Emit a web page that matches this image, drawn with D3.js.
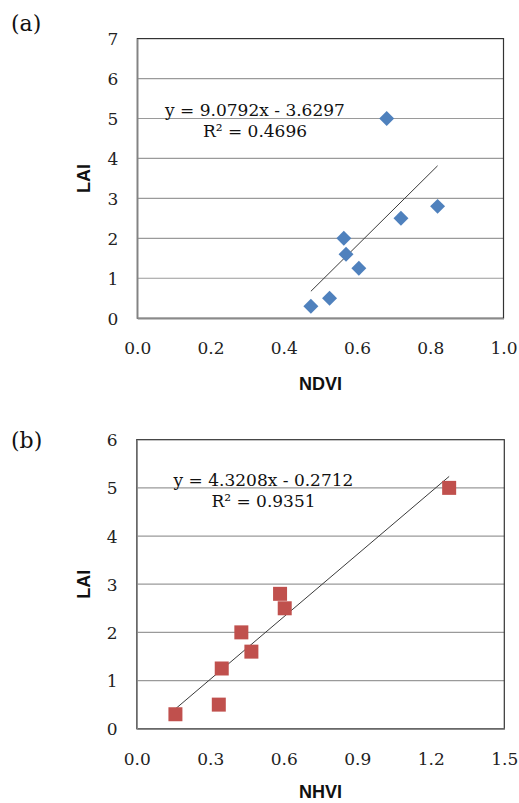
<!DOCTYPE html>
<html>
<head>
<meta charset="utf-8">
<script src="https://cdn.jsdelivr.net/npm/d3@7"></script>
<style>
  html, body { margin: 0; padding: 0; background: #fff; }
  svg { display: block; }
</style>
</head>
<body>
<svg id="chart" width="519" height="803"></svg>
<script>
// Panel (a): LAI against NDVI
const ndvi = [0.474, 0.525, 0.564, 0.570, 0.605, 0.681, 0.720, 0.820];
const laiA = [0.3, 0.5, 2.0, 1.6, 1.25, 5.0, 2.5, 2.8];
const xTicksA = [0, 0.2, 0.4, 0.6, 0.8, 1.0];
const yTicksA = [0, 1, 2, 3, 4, 5, 6, 7];
const fitA = { slope: 9.0792, intercept: -3.6297, r2: "0.4696" };

// Panel (b): LAI against NHVI
const nhvi = [0.158, 0.335, 0.347, 0.427, 0.468, 0.585, 0.604, 1.275];
const laiB = [0.3, 0.5, 1.25, 2.0, 1.6, 2.8, 2.5, 5.0];
const xTicksB = [0, 0.3, 0.6, 0.9, 1.2, 1.5];
const yTicksB = [0, 1, 2, 3, 4, 5, 6];
const fitB = { slope: 4.3208, intercept: -0.2712, r2: "0.9351" };

const svg = d3.select("#chart");
const serif = "'DejaVu Serif', serif";
const sans = "'Liberation Sans', Arial, sans-serif";

const panels = [
  {
    tag: "(a)", tagY: 31,
    xs: ndvi, ys: laiA, xTicks: xTicksA, yTicks: yTicksA, fit: fitA,
    xName: "NDVI", yName: "LAI",
    left: 137.3, right: 503.5, top: 38.6, bottom: 318.2,
    eqX: 255, eqY: 116, xLabelY: 389.5,
    color: "#4F81BD", marker: "diamond"
  },
  {
    tag: "(b)", tagY: 447.5,
    xs: nhvi, ys: laiB, xTicks: xTicksB, yTicks: yTicksB, fit: fitB,
    xName: "NHVI", yName: "LAI",
    left: 136.7, right: 504.3, top: 439.7, bottom: 728.7,
    eqX: 263.5, eqY: 486, xLabelY: 798,
    color: "#C0504D", marker: "square"
  }
];

panels.forEach(p => {
  const g = svg.append("g");
  const x = d3.scaleLinear()
    .domain([p.xTicks[0], p.xTicks[p.xTicks.length - 1]])
    .range([p.left, p.right]);
  const y = d3.scaleLinear()
    .domain([p.yTicks[0], p.yTicks[p.yTicks.length - 1]])
    .range([p.bottom, p.top]);

  // panel tag
  g.append("text")
    .attr("x", 11).attr("y", p.tagY)
    .attr("font-family", serif).attr("font-size", 22)
    .attr("fill", "#111")
    .text(p.tag);

  // horizontal gridlines
  g.append("g")
    .selectAll("line")
    .data(p.yTicks.slice(1, -1))
    .join("line")
    .attr("x1", p.left).attr("x2", p.right)
    .attr("y1", d => y(d)).attr("y2", d => y(d))
    .attr("stroke", "#9a9a9a").attr("stroke-width", 1.2);

  // plot frame
  g.append("rect")
    .attr("x", p.left).attr("y", p.top)
    .attr("width", p.right - p.left).attr("height", p.bottom - p.top)
    .attr("fill", "none").attr("stroke", "#333").attr("stroke-width", 1.2);

  // axis lines (left and bottom)
  const yAxis = d3.axisLeft(y).tickValues(p.yTicks).tickSize(0).tickPadding(19)
    .tickFormat(d3.format("d"));
  const xAxis = d3.axisBottom(x).tickValues(p.xTicks).tickSize(0).tickPadding(24)
    .tickFormat(d3.format(".1f"));

  const ya = g.append("g").attr("transform", `translate(${p.left},0)`).call(yAxis);
  const xa = g.append("g").attr("transform", `translate(0,${p.bottom})`).call(xAxis);
  [ya, xa].forEach(a => {
    a.select(".domain").attr("stroke", "#8a8a8a").attr("stroke-width", 1.4);
    a.selectAll("text")
      .attr("font-family", serif).attr("font-size", 17)
      .attr("fill", "#222");
  });
  ya.selectAll("text").attr("dy", "0.36em");

  // axis titles
  g.append("text")
    .attr("x", (p.left + p.right) / 2).attr("y", p.xLabelY)
    .attr("text-anchor", "middle")
    .attr("font-family", sans).attr("font-weight", "bold").attr("font-size", 18)
    .attr("fill", "#111")
    .text(p.xName);
  g.append("text")
    .attr("transform", `translate(90,${(p.top + p.bottom) / 2}) rotate(-90)`)
    .attr("text-anchor", "middle")
    .attr("font-family", sans).attr("font-weight", "bold").attr("font-size", 18)
    .attr("fill", "#111")
    .text(p.yName);

  // linear trendline across the data range
  const [x0, x1] = d3.extent(p.xs);
  const fy = v => p.fit.slope * v + p.fit.intercept;
  g.append("line")
    .attr("x1", x(x0)).attr("y1", y(fy(x0)))
    .attr("x2", x(x1)).attr("y2", y(fy(x1)))
    .attr("stroke", "#3a3a3a").attr("stroke-width", 1);

  // markers
  const sym = p.marker === "diamond"
    ? d3.symbol(d3.symbolSquare, 112)
    : d3.symbol(d3.symbolSquare, 196);
  const rot = p.marker === "diamond" ? 45 : 0;
  g.append("g")
    .selectAll("path")
    .data(d3.zip(p.xs, p.ys))
    .join("path")
    .attr("d", sym)
    .attr("transform", d => `translate(${x(d[0])},${y(d[1])}) rotate(${rot})`)
    .attr("fill", p.color);

  // regression equation
  const sign = p.fit.intercept < 0 ? " - " : " + ";
  const eq = g.append("text")
    .attr("font-family", serif).attr("font-size", 17)
    .attr("fill", "#111").attr("text-anchor", "middle");
  eq.append("tspan")
    .attr("x", p.eqX).attr("y", p.eqY)
    .text(`y = ${p.fit.slope.toFixed(4)}x${sign}${Math.abs(p.fit.intercept).toFixed(4)}`);
  eq.append("tspan")
    .attr("x", p.eqX).attr("y", p.eqY + 21)
    .text(`R\u00B2 = ${p.fit.r2}`);
});
</script>
</body>
</html>
